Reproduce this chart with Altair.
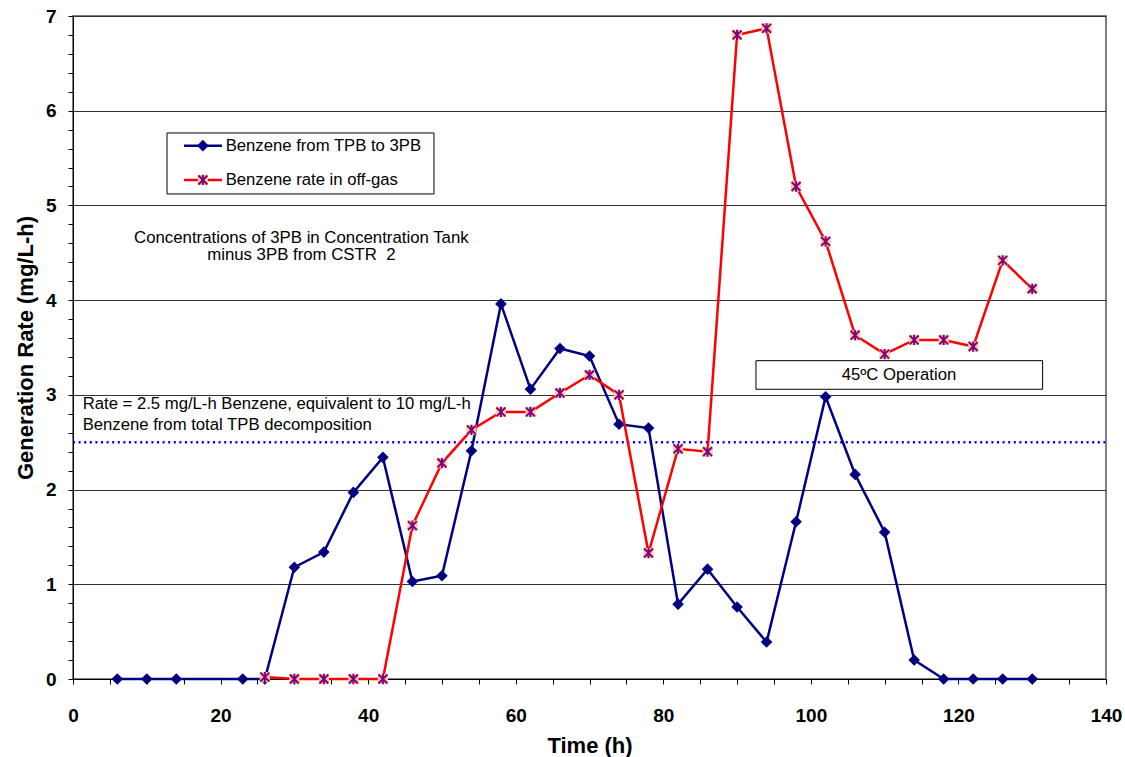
import altair as alt
import pandas as pd

# Benzene generated from TPB to 3PB (hours, mg/L-h)
hours_tpb = [6, 10, 14, 23, 26, 30, 34, 38, 42, 46, 50, 54, 58, 62, 66, 70, 74, 78,
             82, 86, 90, 94, 98, 102, 106, 110, 114, 118, 122, 126, 130]
rate_tpb = [0, 0, 0, 0, 0, 1.18, 1.34, 1.97, 2.34, 1.03, 1.09, 2.41, 3.96, 3.06, 3.49,
            3.41, 2.69, 2.65, 0.79, 1.16, 0.76, 0.39, 1.66, 2.98, 2.16, 1.55, 0.20,
            0, 0, 0, 0]

# Benzene rate measured in the off-gas
hours_gas = [26, 30, 34, 38, 42, 46, 50, 54, 58, 62, 66, 70, 74, 78, 82, 86, 90, 94,
             98, 102, 106, 110, 114, 118, 122, 126, 130]
rate_gas = [0.02, 0, 0, 0, 0, 1.62, 2.28, 2.63, 2.82, 2.82, 3.02, 3.21, 3.00, 1.33,
            2.43, 2.40, 6.80, 6.87, 5.20, 4.62, 3.63, 3.43, 3.58, 3.58, 3.51, 4.42, 4.12]

series_names = ["Benzene from TPB to 3PB", "Benzene rate in off-gas"]
limit_rate = 2.5
note_lines = ["Concentrations of 3PB in Concentration Tank", "minus 3PB from CSTR\u00a0 2"]
limit_lines = ["Rate = 2.5 mg/L-h Benzene, equivalent to 10 mg/L-h",
               "Benzene from total TPB decomposition"]
box_label = "45ºC Operation"

x_ticks = list(range(0, 141, 5))
y_ticks = [round(0.2 * i, 1) for i in range(36)]

FONT = "Liberation Sans"
NAVY = "#000080"
RED = "#FF0000"
PURPLE = "#800080"
PEACH = "#FFCC99"
ASTERISK = "M-1,-1L1,1M1,-1L-1,1M0,-1.15L0,1.15"

is_int = "abs(datum.value - round(datum.value)) < 0.001"

x_axis = alt.Axis(
    values=x_ticks, labelExpr="datum.value % 20 == 0 ? datum.label : ''",
    grid=False, title="Time (h)", labelFont=FONT, labelFontSize=19, labelFontWeight="bold",
    labelColor="black", labelPadding=22, labelOverlap=False, labelFlush=False,
    tickSize=5, tickColor="black", domainColor="black", domainWidth=1,
    titleFont=FONT, titleFontSize=22, titleFontWeight="bold", titleColor="black",
    titleX=516.5, titleY=66, titleBaseline="middle", titleAlign="center",
)
y_axis = alt.Axis(
    values=y_ticks, labelExpr=f"{is_int} ? format(datum.value, 'd') : ''",
    grid=True, gridColor="#333333", gridWidth=1,
    gridOpacity={"condition": {"test": is_int, "value": 1}, "value": 0},
    title="Generation Rate (mg/L-h)", labelFont=FONT, labelFontSize=19,
    labelFontWeight="bold", labelColor="black", labelPadding=12, labelOverlap=False,
    labelFlush=False, tickSize=5, tickColor="black", domainColor="black", domainWidth=1,
    titleFont=FONT, titleFontSize=22, titleFontWeight="bold", titleColor="black",
    titleX=-48, titleY=331.5, titleBaseline="middle", titleAlign="center", titleAngle=-90,
)

x_scale = alt.Scale(domain=[0, 140], nice=False, zero=False)
y_scale = alt.Scale(domain=[0, 7], nice=False, zero=False)
X = alt.X("t:Q", scale=x_scale, axis=x_axis)
Y = alt.Y("rate:Q", scale=y_scale, axis=y_axis)

tpb = pd.DataFrame({"t": hours_tpb, "rate": rate_tpb})
gas = pd.DataFrame({"t": hours_gas, "rate": rate_gas})

# dotted reference level
limit = pd.DataFrame({"t": [0], "t2": [140], "rate": [limit_rate]})
limit_rule = alt.Chart(limit).mark_rule(
    color="#0000FF", strokeWidth=2.5, strokeDash=[2, 3.6]
).encode(x=X, x2="t2:Q", y=Y)

tpb_line = alt.Chart(tpb).mark_line(color=NAVY, strokeWidth=2.5).encode(x=X, y=Y)
tpb_pts = alt.Chart(tpb).mark_point(
    shape="diamond", filled=True, color=NAVY, size=135, opacity=1
).encode(x=X, y=Y)

gas_line = alt.Chart(gas).mark_line(color=RED, strokeWidth=2.5).encode(x=X, y=Y)
gas_sq = alt.Chart(gas).mark_point(
    shape="square", filled=True, color=PEACH, size=105, opacity=1
).encode(x=X, y=Y)
gas_star = alt.Chart(gas).mark_point(
    shape=ASTERISK, filled=False, color=PURPLE, size=80, strokeWidth=2, opacity=1
).encode(x=X, y=Y)

# explanatory notes
notes = pd.DataFrame({"t": [30.95, 30.95], "rate": [4.653, 4.475], "label": note_lines})
notes_txt = alt.Chart(notes).mark_text(
    font=FONT, fontSize=16.8, color="black", align="center", baseline="middle"
).encode(x=X, y=Y, text="label:N")

limit_notes = pd.DataFrame({"t": [1.31, 1.31], "rate": [2.90, 2.68], "label": limit_lines})
limit_txt = alt.Chart(limit_notes).mark_text(
    font=FONT, fontSize=16.7, color="black", align="left", baseline="middle"
).encode(x=X, y=Y, text="label:N")

# boxed operating-condition label
op_box = pd.DataFrame({"t": [92.56], "t2": [131.41], "rate": [3.361], "rate2": [3.059]})
op_rect = alt.Chart(op_box).mark_rect(
    fill="white", stroke="black", strokeWidth=1
).encode(x=X, x2="t2:Q", y=Y, y2="rate2:Q")
op_lab = pd.DataFrame({"t": [111.94], "rate": [3.21], "label": [box_label]})
op_txt = alt.Chart(op_lab).mark_text(
    font=FONT, fontSize=16.7, color="black", align="center", baseline="middle"
).encode(x=X, y=Y, text="label:N")

# legend
leg_box = pd.DataFrame({"t": [12.74], "t2": [48.92], "rate": [5.765], "rate2": [5.121]})
leg_rect = alt.Chart(leg_box).mark_rect(
    fill="white", stroke="black", strokeWidth=1
).encode(x=X, x2="t2:Q", y=Y, y2="rate2:Q")
leg_rows = [5.631, 5.269]
leg_l1 = alt.Chart(pd.DataFrame({"t": [15.04], "t2": [20.19], "rate": [leg_rows[0]]})).mark_rule(
    color=NAVY, strokeWidth=2.5).encode(x=X, x2="t2:Q", y=Y)
leg_l2 = alt.Chart(pd.DataFrame({"t": [15.04], "t2": [20.19], "rate": [leg_rows[1]]})).mark_rule(
    color=RED, strokeWidth=2.5).encode(x=X, x2="t2:Q", y=Y)
leg_p1 = alt.Chart(pd.DataFrame({"t": [17.6], "rate": [leg_rows[0]]})).mark_point(
    shape="diamond", filled=True, color=NAVY, size=135, opacity=1).encode(x=X, y=Y)
leg_p2a = alt.Chart(pd.DataFrame({"t": [17.6], "rate": [leg_rows[1]]})).mark_point(
    shape="square", filled=True, color=PEACH, size=105, opacity=1).encode(x=X, y=Y)
leg_p2b = alt.Chart(pd.DataFrame({"t": [17.6], "rate": [leg_rows[1]]})).mark_point(
    shape=ASTERISK, filled=False, color=PURPLE, size=80, strokeWidth=2, opacity=1).encode(x=X, y=Y)
leg_txt = alt.Chart(pd.DataFrame({"t": [20.69, 20.69], "rate": leg_rows, "label": series_names})).mark_text(
    font=FONT, fontSize=16.7, color="black", align="left", baseline="middle"
).encode(x=X, y=Y, text="label:N")

chart = alt.layer(
    limit_rule, tpb_line, tpb_pts, gas_line, gas_sq, gas_star,
    notes_txt, limit_txt, op_rect, op_txt,
    leg_rect, leg_l1, leg_l2, leg_p1, leg_p2a, leg_p2b, leg_txt,
).properties(
    width=1033, height=663,
    autosize=alt.AutoSizeParams(type="none"),
    padding={"left": 73, "top": 16, "right": 19, "bottom": 78},
    background="white",
).configure_view(stroke="#808080", strokeWidth=2)

chart.save("out.html", embed_options={"renderer": "svg", "actions": False})
